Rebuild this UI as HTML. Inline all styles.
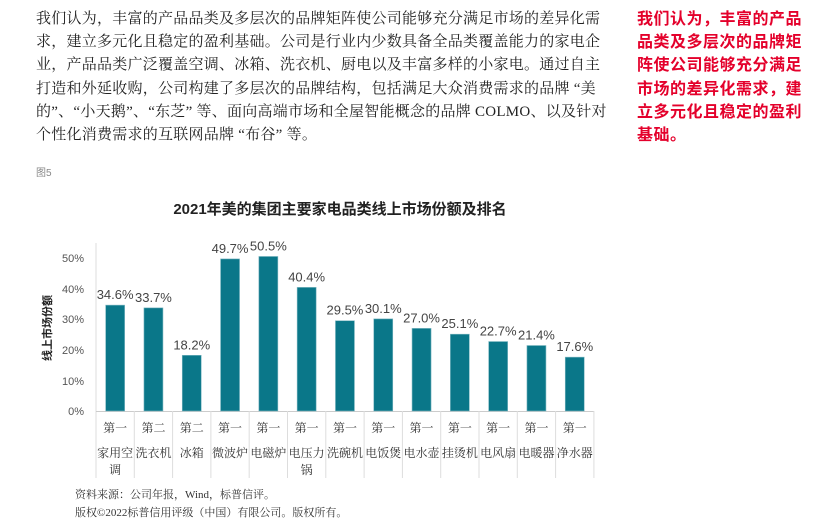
<!DOCTYPE html>
<html><head><meta charset="utf-8"><style>
body{margin:0;width:828px;height:526px;background:#fff;position:relative;overflow:hidden;font-family:"Liberation Sans","Noto Sans CJK SC",sans-serif}
.p{position:absolute;left:36px;top:8px;white-space:nowrap;font-family:"Liberation Serif","Noto Serif CJK SC",serif;font-size:15px;line-height:23.2px;color:#222;letter-spacing:0.25px}
.r{position:absolute;left:637px;top:8px;white-space:nowrap;font-size:16px;letter-spacing:0.5px;line-height:23.2px;color:#e4002b;font-weight:bold}
.f{position:absolute;left:36px;top:164px;font-size:10px;color:#888}
.src{position:absolute;left:75px;font-family:"Liberation Serif","Noto Serif CJK SC",serif;font-size:11px;color:#333}
</style></head><body>
<div class="p">我们认为，丰富的产品品类及多层次的品牌矩阵使公司能够充分满足市场的差异化需<br>求，建立多元化且稳定的盈利基础。公司是行业内少数具备全品类覆盖能力的家电企<br>业，产品品类广泛覆盖空调、冰箱、洗衣机、厨电以及丰富多样的小家电。通过自主<br>打造和外延收购，公司构建了多层次的品牌结构，包括满足大众消费需求的品牌 “美<br>的”、“小天鹅”、“东芝” 等、面向高端市场和全屋智能概念的品牌 COLMO、以及针对<br>个性化消费需求的互联网品牌 “布谷” 等。</div>
<div class="r">我们认为，丰富的产品<br>品类及多层次的品牌矩<br>阵使公司能够充分满足<br>市场的差异化需求，建<br>立多元化且稳定的盈利<br>基础。</div>
<div class="f">图5</div>
<svg width="828" height="526" style="position:absolute;left:0;top:0">
<text x="340" y="214" text-anchor="middle" font-size="15" font-weight="bold" fill="#222" font-family="Liberation Sans,Noto Sans CJK SC,sans-serif">2021年美的集团主要家电品类线上市场份额及排名</text>
<text transform="translate(51,328) rotate(-90)" text-anchor="middle" font-size="11" font-weight="bold" fill="#222" font-family="Liberation Sans,Noto Sans CJK SC,sans-serif">线上市场份额</text>
<g font-size="11" fill="#555" text-anchor="end" font-family="Liberation Sans,sans-serif">
<text x="84" y="415">0%</text><text x="84" y="385">10%</text><text x="84" y="354">20%</text><text x="84" y="323">30%</text><text x="84" y="293">40%</text><text x="84" y="262">50%</text>
</g>
<line x1="96" y1="243" x2="96" y2="478" stroke="#ddd"/>
<line x1="96" y1="411.5" x2="594" y2="411.5" stroke="#ccc"/>
<g id="g"></g>
</svg>
<div class="src" style="top:486px">资料来源：公司年报，Wind，标普信评。</div>
<div class="src" style="top:504px">版权©2022标普信用评级（中国）有限公司。版权所有。</div>
<script>
var d=[["第一","家用空","调",34.6],["第二","洗衣机","",33.7],["第二","冰箱","",18.2],["第一","微波炉","",49.7],["第一","电磁炉","",50.5],["第一","电压力","锅",40.4],["第一","洗碗机","",29.5],["第一","电饭煲","",30.1],["第一","电水壶","",27.0],["第一","挂烫机","",25.1],["第一","电风扇","",22.7],["第一","电暖器","",21.4],["第一","净水器","",17.6]];
var s="",w=38.3;
for(var i=0;i<d.length;i++){var x0=96+i*w,c=x0+w/2,h=d[i][3]*3.06,y=411-h;
s+='<rect x="'+(c-9.5)+'" y="'+y+'" width="19" height="'+h+'" fill="#0a7789" stroke="#7fb8c2" stroke-width="0.6"/>';
s+='<text x="'+c+'" y="'+(y-6)+'" text-anchor="middle" font-size="13" fill="#444" font-family="Liberation Sans,sans-serif">'+d[i][3].toFixed(1)+'%</text>';
s+='<line x1="'+(x0+w)+'" y1="411" x2="'+(x0+w)+'" y2="478" stroke="#ddd"/>';
var ff='font-family="Liberation Serif,Noto Serif CJK SC,serif" font-size="12" fill="#333" text-anchor="middle"';
s+='<text x="'+c+'" y="432" '+ff+'>'+d[i][0]+'</text><text x="'+c+'" y="457" '+ff+'>'+d[i][1]+'</text>';
if(d[i][2])s+='<text x="'+c+'" y="474" '+ff+'>'+d[i][2]+'</text>';}
document.getElementById("g").innerHTML=s;
</script>
</body></html>
